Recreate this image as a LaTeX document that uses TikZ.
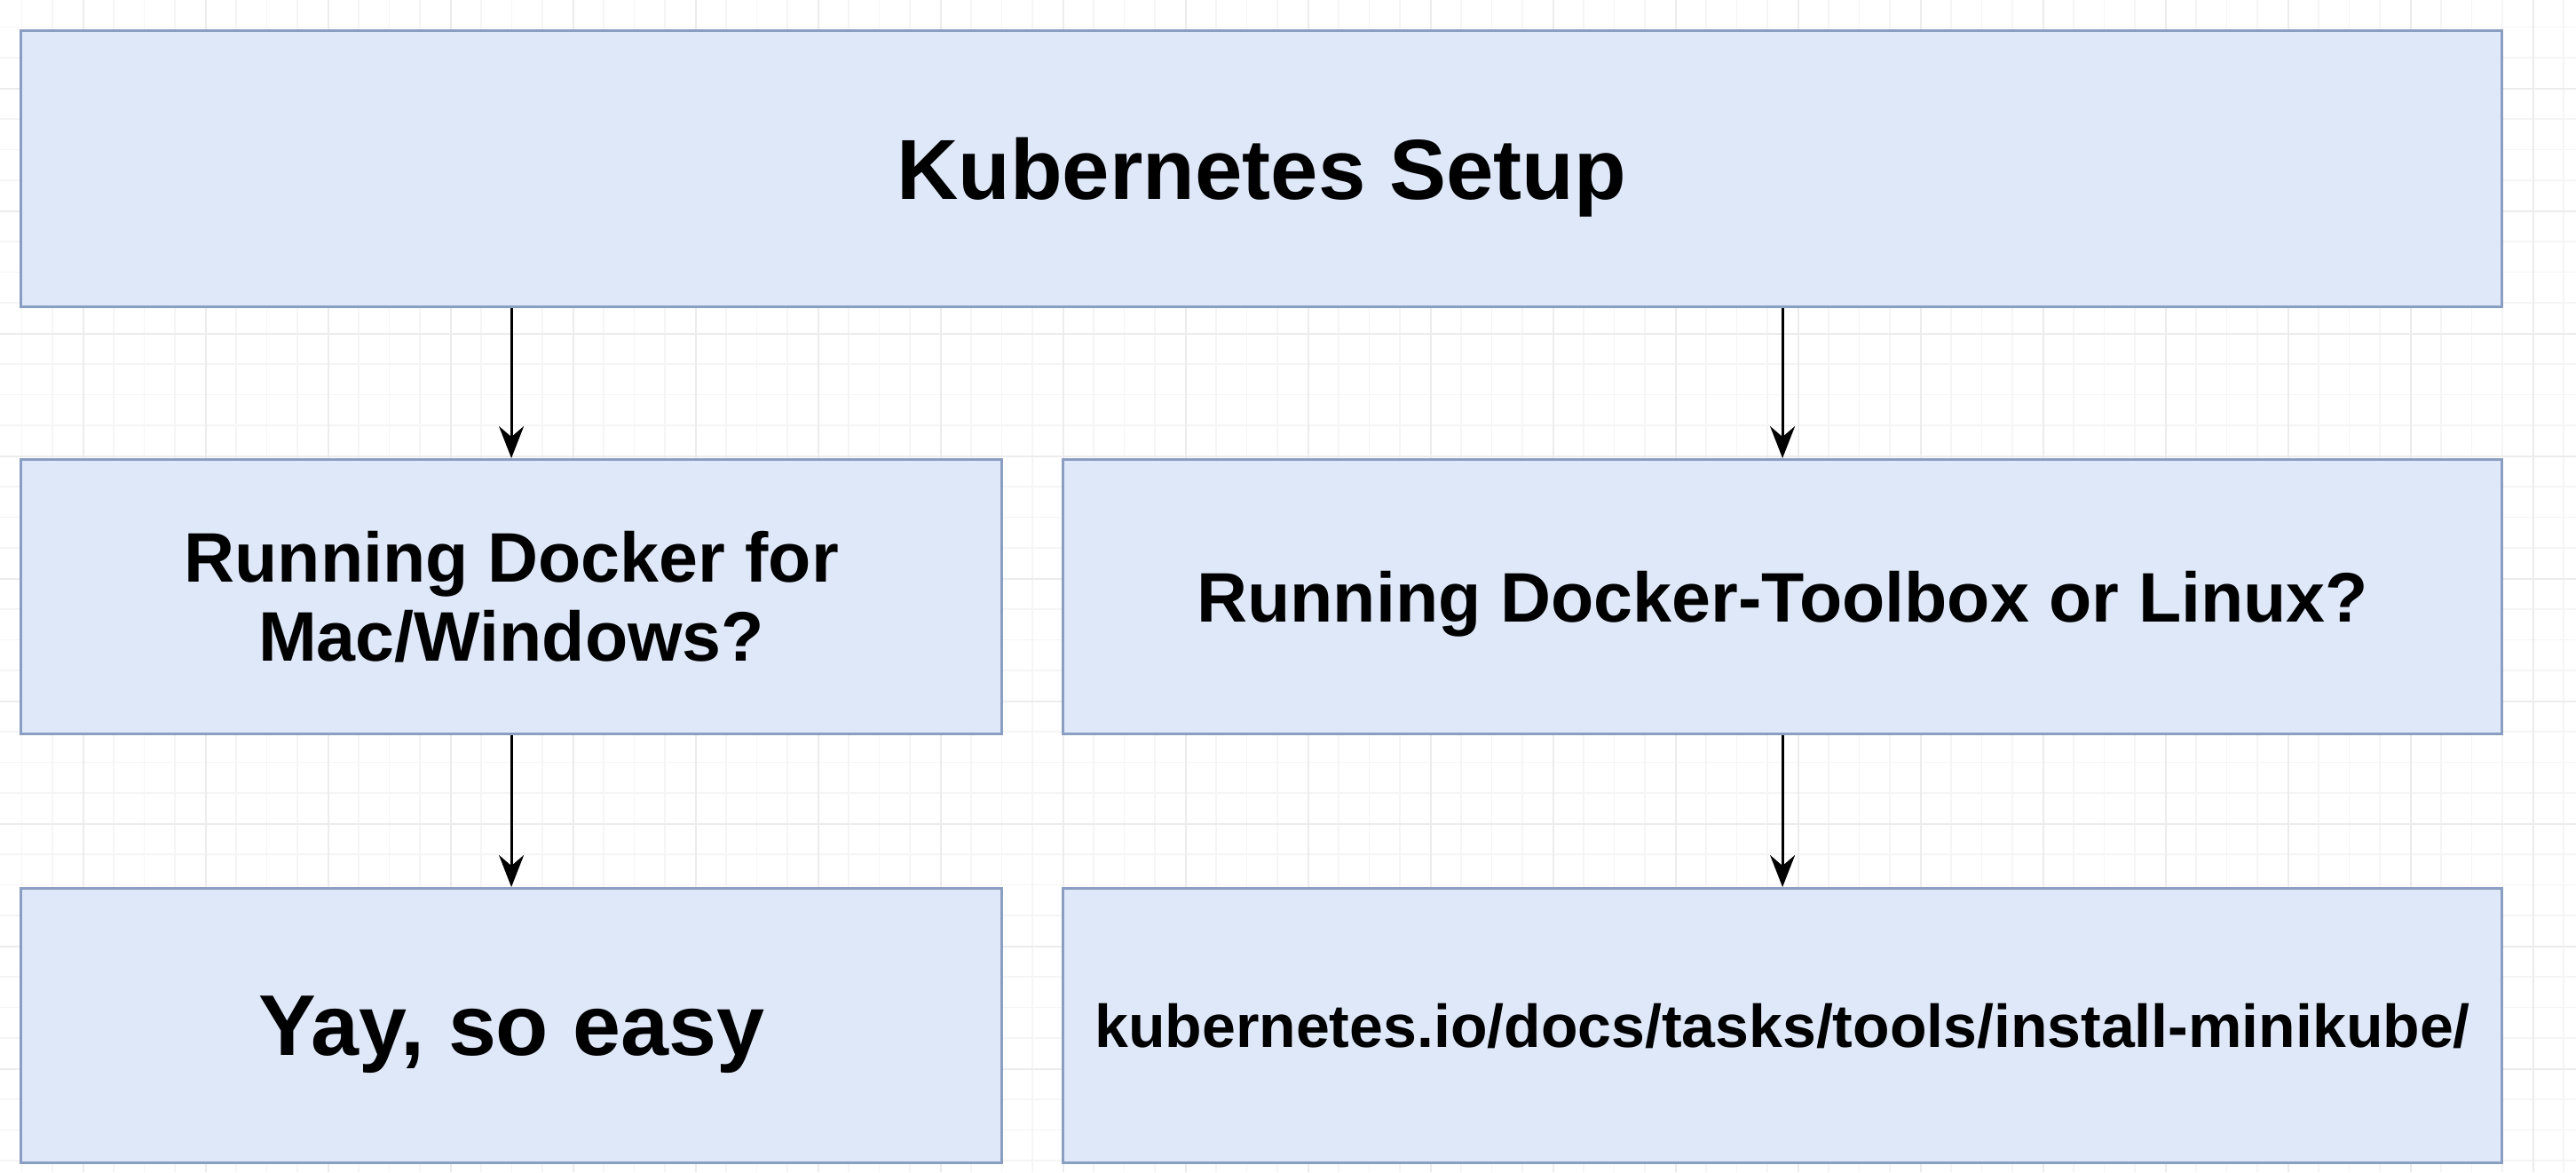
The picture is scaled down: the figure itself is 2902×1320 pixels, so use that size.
\documentclass[tikz,border=0pt]{standalone}
\usepackage{fontspec}
\setmainfont{Liberation Sans}
\usetikzlibrary{arrows.meta}
\definecolor{boxfill}{HTML}{DEE8F9}
\definecolor{boxline}{HTML}{8A9EC2}
\definecolor{gridminor}{HTML}{F5F5F5}
\definecolor{gridmajor}{HTML}{ECECEC}
\begin{document}
\begin{tikzpicture}[x=1pt,y=-1pt,
  box/.style={draw=boxline, fill=boxfill, line width=3.2pt, anchor=north west,
    inner sep=0pt, align=center, text=black},
  arr/.style={draw=black, line width=3.2pt, -{Stealth[length=36pt,width=28pt,inset=12pt]}}]
\useasboundingbox (0,0) rectangle (2902,1320);
\fill[white] (0,0) rectangle (2902,1320);
% faint canvas grid
\foreach \i in {0,...,86} \draw[gridminor, line width=1.5pt] ({-10+\i*34.5},0) -- ++(0,1320);
\foreach \j in {0,...,40} \draw[gridminor, line width=1.5pt] (0,{-4+\j*34.5}) -- ++(2902,0);
\foreach \i in {0,...,21} \draw[gridmajor, line width=1.5pt] ({94+\i*138},0) -- ++(0,1320);
\foreach \j in {0,...,10} \draw[gridmajor, line width=1.5pt] (0,{100+\j*138}) -- ++(2902,0);
% boxes
\node[box, minimum width=2795pt, minimum height=311pt, text depth=0pt,
  font=\fontsize{96}{110}\selectfont\bfseries] (top) at (22,33) {Kubernetes Setup};
\node[box, minimum width=1105pt, minimum height=309pt,
  font=\fontsize{79}{89}\selectfont\bfseries] (m1) at (22,516) {Running Docker for\\Mac/Windows?};
\node[box, minimum width=1621pt, minimum height=309pt, text depth=0pt,
  font=\fontsize{79}{89}\selectfont\bfseries] (m2) at (1196,516) {Running Docker-Toolbox or Linux?};
\node[box, minimum width=1105pt, minimum height=309pt, text depth=0pt,
  font=\fontsize{97}{110}\selectfont\bfseries] (b1) at (22,999) {Yay, so easy};
\node[box, minimum width=1621pt, minimum height=309pt,
  font=\fontsize{68}{80}\selectfont\bfseries] (b2) at (1196,999) {kubernetes.io/docs/tasks/tools/install-minikube/};
% connectors
\draw[arr] (top.south -| m1.north) -- (m1.north);
\draw[arr] (top.south -| m2.north) -- (m2.north);
\draw[arr] (m1.south) -- (b1.north);
\draw[arr] (m2.south) -- (b2.north);
\end{tikzpicture}
\end{document}
